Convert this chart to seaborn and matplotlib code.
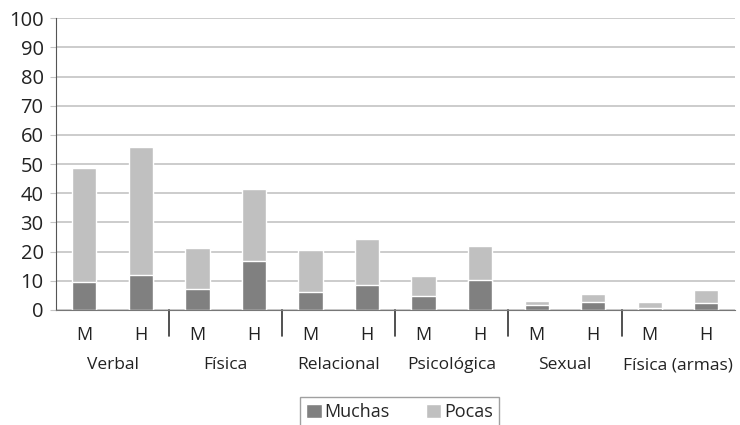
import numpy as np
import pandas as pd
import matplotlib
matplotlib.use("Agg")
import matplotlib.pyplot as plt
import seaborn as sns

sns.set_style("white")
plt.rcParams['font.family'] = ['Open Sans', 'DejaVu Sans']

# data
categorias = ['Verbal', 'Física', 'Relacional', 'Psicológica', 'Sexual', 'Física (armas)']
sexos = ['M', 'H']
muchas = [9.5, 11.9, 7.1, 16.7, 6.1, 8.5, 4.7, 10.2, 1.6, 2.6, 0.6, 2.3]
pocas = [39.1, 43.9, 14.1, 24.7, 14.4, 15.8, 6.9, 11.7, 1.4, 2.8, 2.0, 4.5]
yticks = list(range(0, 101, 10))

keys = [c + '-' + s for c in categorias for s in sexos]
df = pd.DataFrame({'grupo': keys,
                   'Muchas': muchas,
                   'total': np.array(muchas) + np.array(pocas)})

fig = plt.figure(figsize=(7.4, 4.25), dpi=100)
ax = fig.add_axes([0.0757, 0.271, 0.917, 0.686])

# stacked bars: total in light grey, Muchas over it
sns.barplot(data=df, x='grupo', y='total', order=keys, color='#c0c0c0',
            width=0.43, saturation=1, ax=ax, label='Pocas')
sns.barplot(data=df, x='grupo', y='Muchas', order=keys, color='#808080',
            width=0.43, saturation=1, ax=ax, label='Muchas')

ax.set_ylim(0, 100)
ax.set_yticks(yticks)
ax.set_yticklabels([str(v) for v in yticks], fontsize=14.5, color='#222222')
ax.set_xlim(-0.5, len(keys) - 0.5)
ax.yaxis.grid(True, color='#c4c4c4', linewidth=1.2)
ax.set_axisbelow(True)
for s in ['top', 'right']:
    ax.spines[s].set_visible(False)
ax.spines['left'].set_color('#555555')
ax.spines['bottom'].set_color('#777777')
ax.tick_params(axis='y', left=True, length=4, color='#c4c4c4', pad=5)
ax.tick_params(axis='x', bottom=False, pad=8)
ax.set_xticks(range(len(keys)))
ax.set_xticklabels(sexos * len(categorias), fontsize=13, color='#222222')
ax.set_xlabel('')
ax.set_ylabel('')

# group separators and category labels
trans = ax.get_xaxis_transform()
for i in range(1, len(categorias)):
    ax.plot([2 * i - 0.5, 2 * i - 0.5], [0, -0.09], transform=trans,
            color='#333333', linewidth=1.2, clip_on=False)
for i, c in enumerate(categorias):
    ax.text(2 * i + 0.5, -0.19, c, transform=trans, ha='center', va='center',
            fontsize=12.5, color='#222222')

handles, labels = ax.get_legend_handles_labels()
if ax.legend_:
    ax.legend_.remove()
hmap = dict(zip(labels, handles))
fig.legend([hmap['Muchas'], hmap['Pocas']], ['Muchas', 'Pocas'],
           loc='upper center', bbox_to_anchor=(0.54, 0.066),
           ncol=2, frameon=True, fancybox=False, edgecolor='#888888',
           fontsize=13, handlelength=0.85, handleheight=0.85,
           handletextpad=0.15, columnspacing=2.0, borderpad=0.35,
           borderaxespad=0)

fig.savefig('out.png', dpi=100)
